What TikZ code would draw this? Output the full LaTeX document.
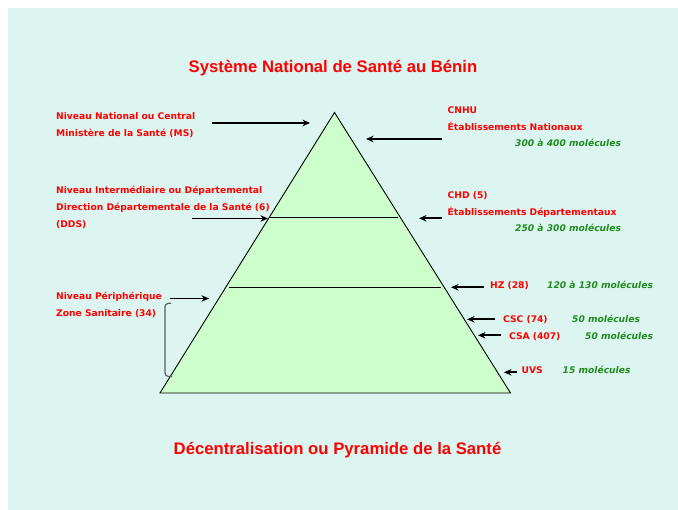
\documentclass[tikz,border=0pt]{standalone}
\usepackage{fontspec}
\setmainfont{DejaVu Sans}
\newfontfamily\titlefont{Liberation Sans}
\usetikzlibrary{arrows.meta}
\definecolor{bgc}{RGB}{221,245,241}
\definecolor{pyr}{RGB}{204,255,204}
\definecolor{lab}{RGB}{255,0,0}
\definecolor{mol}{RGB}{30,140,30}
\definecolor{brc}{RGB}{85,95,95}
\begin{document}
\begin{tikzpicture}[x=1pt,y=-1pt,
  lbl/.style={text=lab,font=\fontsize{9.15}{10}\selectfont\bfseries,inner sep=0pt,anchor=mid west},
  mlbl/.style={text=mol,font=\fontsize{9.15}{10}\selectfont\bfseries\itshape,inner sep=0pt,anchor=mid west},
  ttl/.style={text=lab,font=\titlefont\fontsize{16.7}{18}\selectfont\bfseries,inner sep=0pt},
  arr/.style={line width=1.7pt,-{Stealth[length=7.5pt,width=6.5pt]}},
  lvl/.style={line width=0.9pt}]
\useasboundingbox (0,0) rectangle (678,510);
\fill[bgc] (8,8) rectangle (678,510);
% pyramid
\coordinate (apex) at (334.5,112.5);
\coordinate (bl) at (160,393);
\coordinate (br) at (510.5,393);
\draw[fill=pyr,line width=0.9pt,line join=miter] (apex) -- (bl) -- (br) -- cycle;
\coordinate (l1a) at (270,217.5);
\coordinate (l1b) at (398,217.5);
\coordinate (l2a) at (229,287);
\coordinate (l2b) at (441,287);
\draw[lvl] (l1a) -- (l1b);
\draw[lvl] (l2a) -- (l2b);
% titles
\node[ttl] (t1) at (333,68) {Système National de Santé au Bénin};
\node[ttl] (t2) at (337.5,450) {Décentralisation ou Pyramide de la Santé};
% left labels
\node[lbl] (n1) at (56,116.5) {Niveau National ou Central};
\node[lbl] (n2) at (56,134) {Ministère de la Santé (MS)};
\node[lbl] (n3) at (56,190.5) {Niveau Intermédiaire ou Départemental};
\node[lbl] (n4) at (56,208) {Direction Départementale de la Santé (6)};
\node[lbl] (n5) at (56,225) {(DDS)};
\node[lbl] (n6) at (56,296.5) {Niveau Périphérique};
\node[lbl] (n7) at (56,314) {Zone Sanitaire (34)};
\coordinate (a1s) at (212,123); \coordinate (a1e) at (310,123);
\coordinate (a2s) at (192,218.5); \coordinate (a2e) at (268,218.5);
\coordinate (a3s) at (170,298.5); \coordinate (a3e) at (209,298.5);
\draw[arr] (a1s) -- (a1e);
\draw[arr] (a2s) -- (a2e);
\draw[arr] (a3s) -- (a3e);
% bracket
\coordinate (b1) at (171,303.3);
\coordinate (b2) at (172,376.5);
\draw[brc,line width=1.2pt,rounded corners=3.5pt] (b1) -- (165,303.3) -- (165,376.5) -- (b2);
% right labels
\node[lbl] (r1) at (447.5,110.5) {CNHU};
\node[lbl] (r2) at (447.5,127.5) {Établissements Nationaux};
\node[mlbl] (r3) at (515,144) {300 à 400 molécules};
\node[lbl] (r4) at (447.5,196) {CHD (5)};
\node[lbl] (r5) at (447.5,212.5) {Établissements Départementaux};
\node[mlbl] (r6) at (515,229) {250 à 300 molécules};
\node[lbl] (r7) at (490,285.5) {HZ (28)};
\node[mlbl] (r8) at (547,285.5) {120 à 130 molécules};
\node[lbl] (r9) at (503,320) {CSC (74)};
\node[mlbl] (r10) at (572,320) {50 molécules};
\node[lbl] (r11) at (509,336.5) {CSA (407)};
\node[mlbl] (r12) at (585,336.5) {50 molécules};
\node[lbl] (r13) at (521.5,370.5) {UVS};
\node[mlbl] (r14) at (562.5,370.5) {15 molécules};
\coordinate (c1s) at (442,139); \coordinate (c1e) at (366,139);
\coordinate (c2s) at (442,218.3); \coordinate (c2e) at (419,218.3);
\coordinate (c3s) at (484,287.3); \coordinate (c3e) at (451,287.3);
\coordinate (c4s) at (495,319.3); \coordinate (c4e) at (467,319.3);
\coordinate (c5s) at (501,335.3); \coordinate (c5e) at (478,335.3);
\coordinate (c6s) at (517,372.3); \coordinate (c6e) at (504,372.3);
\draw[arr] (c1s) -- (c1e);
\draw[arr] (c2s) -- (c2e);
\draw[arr] (c3s) -- (c3e);
\draw[arr] (c4s) -- (c4e);
\draw[arr] (c5s) -- (c5e);
\draw[arr] (c6s) -- (c6e);
\end{tikzpicture}
\end{document}
